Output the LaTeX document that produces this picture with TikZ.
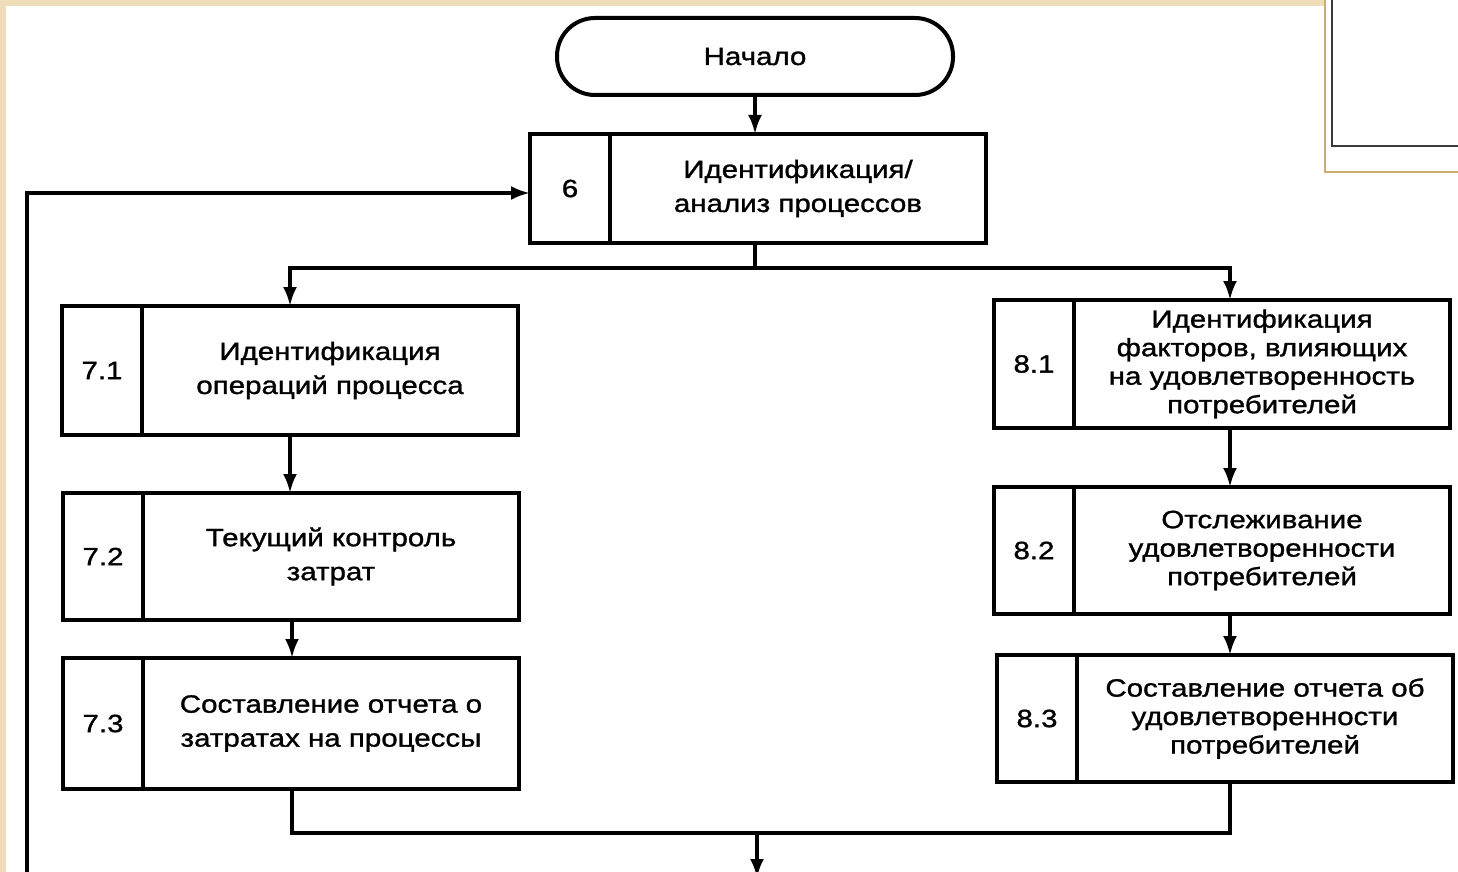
\documentclass[tikz,border=0pt]{standalone}
\usepackage{fontspec}
\setmainfont{Liberation Sans}[FakeStretch=1.18,FakeBold=1.2]
\usetikzlibrary{positioning,arrows.meta}
\definecolor{paper}{HTML}{EEDDB8}
\definecolor{frametan}{HTML}{CDAE72}
\definecolor{framegray}{HTML}{3A3A3A}
\tikzset{
  cell/.style={draw,line width=4pt,rectangle,inner sep=0pt,outer sep=0pt,
    align=center,font=\fontsize{25}{34}\selectfont},
  numcell/.style={cell,minimum width=80pt},
  textcell/.style={cell,minimum width=376pt},
  tight/.style={font=\fontsize{25}{28.5}\selectfont},
  link/.style={line width=3.5pt},
  flow/.style={link,-{Latex[length=19pt,width=14pt]}}
}
\begin{document}
\begin{tikzpicture}[x=1pt,y=-1pt]
  % page and frame
  \useasboundingbox (0,0) rectangle (1458,872);
  \fill[white] (0,0) rectangle (1458,872);
  \fill[paper] (0,0) rectangle (1324,6);
  \fill[paper] (0,0) rectangle (6,872);
  \draw[frametan,line width=1.5pt] (1325,0) -- (1325,172) -- (1458,172);
  \draw[framegray,line width=2pt] (1332,0) -- (1332,146) -- (1458,146);

  % start and step 6
  \node[draw,line width=4pt,rounded corners=38pt,minimum width=396pt,
    minimum height=77pt,font=\fontsize{25}{34}\selectfont] (start) at (755,56.5) {Начало};
  \node[numcell,minimum height=109pt] (n6) at (570,188.5) {6};
  \node[textcell,minimum height=109pt,right=0pt of n6] (t6)
    {Идентификация/\\анализ процессов};

  % costs branch
  \node[numcell,minimum height=129pt] (n71) at (102,370.5) {7.1};
  \node[textcell,minimum height=129pt,right=0pt of n71] (t71)
    {Идентификация\\операций процесса};
  \node[numcell,minimum height=127pt] (n72) at (103,556.5) {7.2};
  \node[textcell,minimum height=127pt,right=0pt of n72] (t72)
    {Текущий контроль\\затрат};
  \node[numcell,minimum height=131pt] (n73) at (103,723.5) {7.3};
  \node[textcell,minimum height=131pt,right=0pt of n73] (t73)
    {Составление отчета о\\затратах на процессы};

  % customers branch
  \node[numcell,minimum height=128pt] (n81) at (1034,364) {8.1};
  \node[textcell,tight,minimum height=128pt,right=0pt of n81] (t81)
    {Идентификация\\факторов, влияющих\\на удовлетворенность\\потребителей};
  \node[numcell,minimum height=127pt] (n82) at (1034,550.5) {8.2};
  \node[textcell,tight,minimum height=127pt,right=0pt of n82] (t82)
    {Отслеживание\\удовлетворенности\\потребителей};
  \node[numcell,minimum height=127pt] (n83) at (1037,718.5) {8.3};
  \node[textcell,tight,minimum height=127pt,right=0pt of n83] (t83)
    {Составление отчета об\\удовлетворенности\\потребителей};

  % connectors
  \coordinate (split) at (755,268);
  \coordinate (cl) at (290,268);
  \coordinate (cr) at (1230,268);
  \coordinate (jl) at (292,833);
  \coordinate (jr) at (1230,833);
  \coordinate (jm) at (757,833);
  \coordinate (exit) at (757,878);
  \coordinate (back) at (27,880);

  \draw[flow] (start.south) -- (start.south |- t6.north);
  \draw[link] (t6.south -| split) -- (split);
  \draw[flow] (split) -| (cl |- t71.north);
  \draw[flow] (split) -| (cr |- t81.north);
  \draw[flow] (cl |- t71.south) -- (cl |- t72.north);
  \draw[flow] (jl |- t72.south) -- (jl |- t73.north);
  \draw[flow] (cr |- t81.south) -- (cr |- t82.north);
  \draw[flow] (cr |- t82.south) -- (cr |- t83.north);
  \draw[link] (t73.south -| jl) -- (jl) -- (jr) -- (t83.south -| jr);
  \draw[flow] (jm) -- (exit);
  \draw[flow] (back) |- ([yshift=-4.5pt]n6.west);
\end{tikzpicture}
\end{document}
